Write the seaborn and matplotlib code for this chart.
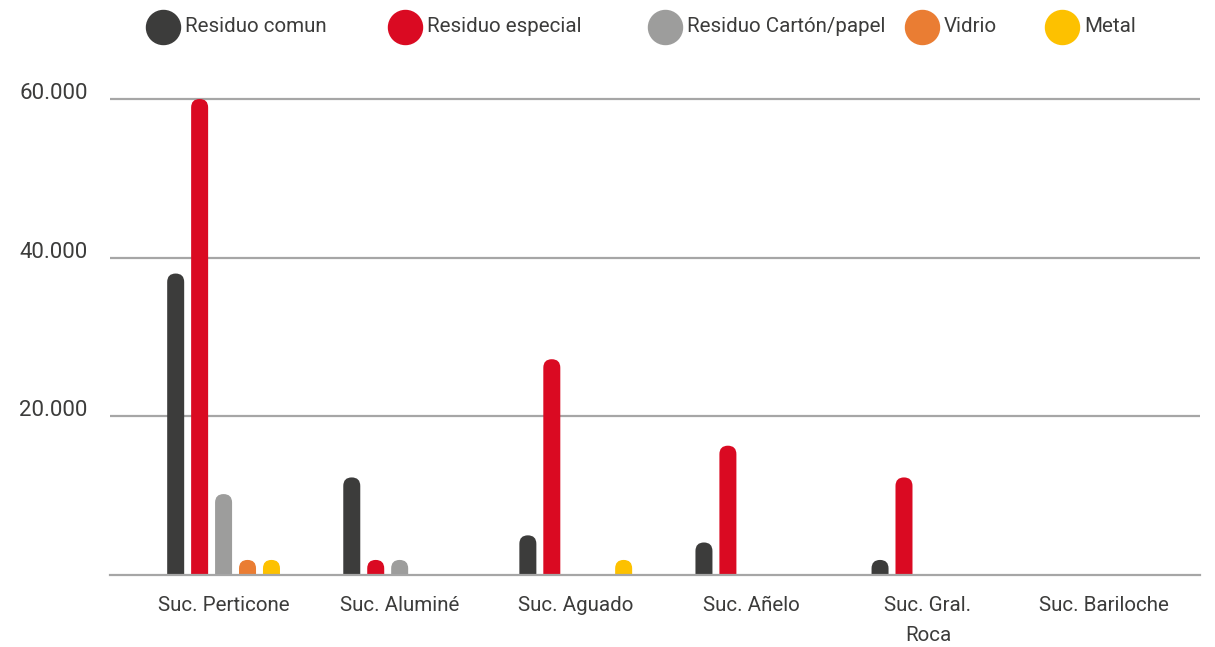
import numpy as np
import pandas as pd
import matplotlib
matplotlib.use("Agg")
import matplotlib.pyplot as plt
import seaborn as sns
from matplotlib import font_manager
from matplotlib.patches import FancyBboxPatch
from matplotlib.lines import Line2D
from matplotlib.ticker import FixedLocator, FuncFormatter

# --- data -------------------------------------------------------------
sucursales = ["Suc. Perticone", "Suc. Aluminé", "Suc. Aguado", "Suc. Añelo",
              "Suc. Gral.\nRoca", "Suc. Bariloche"]
tipos = ["Residuo comun", "Residuo especial", "Residuo Cartón/papel", "Vidrio", "Metal"]
residuo_comun = [38000, 12300, 5000, 4100, 1900, 0]
residuo_especial = [60000, 1900, 27200, 16300, 12300, 0]
residuo_carton = [10200, 1900, 0, 0, 0, 0]
vidrio = [1900, 0, 0, 0, 0, 0]
metal = [1900, 0, 1900, 0, 0, 0]
y_ticks = [20000, 40000, 60000]

colores = ["#3c3c3b", "#da0a22", "#9d9d9c", "#ea7d33", "#fdc100"]
texto = "#3c3c3b"
grilla = "#a6a6a6"

series = [residuo_comun, residuo_especial, residuo_carton, vidrio, metal]
df = pd.DataFrame([
    {"sucursal": s, "tipo": t, "cantidad": v}
    for t, vals in zip(tipos, series)
    for s, v in zip(sucursales, vals)
])

# --- fonts ------------------------------------------------------------
sns.set_theme(style="white")
disponibles = {f.name for f in font_manager.fontManager.ttflist}
if "Liberation Sans Narrow" in disponibles:
    fuente, FS, FS_Y = "Liberation Sans Narrow", 17, 17
else:
    fuente, FS, FS_Y = "Roboto", 14.8, 16
plt.rcParams["font.family"] = [fuente, "DejaVu Sans"]

# --- layout (pixels) --------------------------------------------------
W, H = 1215, 647
left, right, base, top = 110, 1200, 575, 70
fig = plt.figure(figsize=(W / 100, H / 100), dpi=100)
ax = fig.add_axes([left / W, 1 - base / H, (right - left) / W, (base - top) / H])

sns.barplot(data=df, x="sucursal", y="cantidad", hue="tipo",
            order=sucursales, hue_order=tipos, palette=colores,
            saturation=1, width=0.68, gap=0.29, legend=False, ax=ax)

xlim = (-0.645, 5.545)
ylim = (0, 60000 * (base - top) / (base - 99))

# rounded tops: rebuild each bar as a box whose top corners are semicircular
px_x = (right - left) / (xlim[1] - xlim[0])
px_y = (base - top) / (ylim[1] - ylim[0])
aspect = px_x / px_y
for bar in list(ax.patches):
    h = bar.get_height()
    x0, w = bar.get_x(), bar.get_width()
    fc = bar.get_facecolor()
    bar.remove()
    if not np.isfinite(h) or h <= 0:
        continue
    rx = w / 2
    ry = rx * aspect
    ax.add_patch(FancyBboxPatch((x0, -ry), w, h + ry,
                                boxstyle=f"round,pad=0,rounding_size={rx}",
                                mutation_aspect=aspect, facecolor=fc,
                                edgecolor="none", linewidth=0, zorder=3))

ax.set_xlim(*xlim)
ax.set_ylim(*ylim)

# axes styling
ax.yaxis.set_major_locator(FixedLocator(y_ticks))
ax.yaxis.set_major_formatter(FuncFormatter(lambda v, p: f"{int(v):,}".replace(",", ".")))
ax.grid(axis="y", color=grilla, linewidth=1.6)
ax.grid(axis="x", visible=False)
ax.set_axisbelow(True)
for side in ["top", "right", "left"]:
    ax.spines[side].set_visible(False)
ax.spines["bottom"].set_color(grilla)
ax.spines["bottom"].set_linewidth(1.6)
ax.spines["bottom"].set_zorder(4)
ax.set_xlabel("")
ax.set_ylabel("")
ax.tick_params(axis="both", length=0, labelcolor=texto)
ax.tick_params(axis="x", labelsize=FS, pad=15)
ax.tick_params(axis="y", labelsize=FS_Y, pad=16)
for lbl in ax.get_yticklabels():
    lbl.set_verticalalignment("baseline")
for lbl in ax.get_xticklabels():
    lbl.set_linespacing(1.75)
ax.set_facecolor("white")
fig.patch.set_facecolor("white")

# legend row across the top
leyenda_x = [163, 405, 665, 922, 1062]
leyenda_y = 27
for cx, t, c in zip(leyenda_x, tipos, colores):
    fig.add_artist(Line2D([cx / W], [1 - leyenda_y / H], marker="o", markersize=24.5,
                          color=c, linestyle="none", transform=fig.transFigure))
    fig.text((cx + 22) / W, 1 - leyenda_y / H, t, fontsize=FS, color=texto,
             va="center", ha="left")

fig.savefig("out.png", dpi=100)
